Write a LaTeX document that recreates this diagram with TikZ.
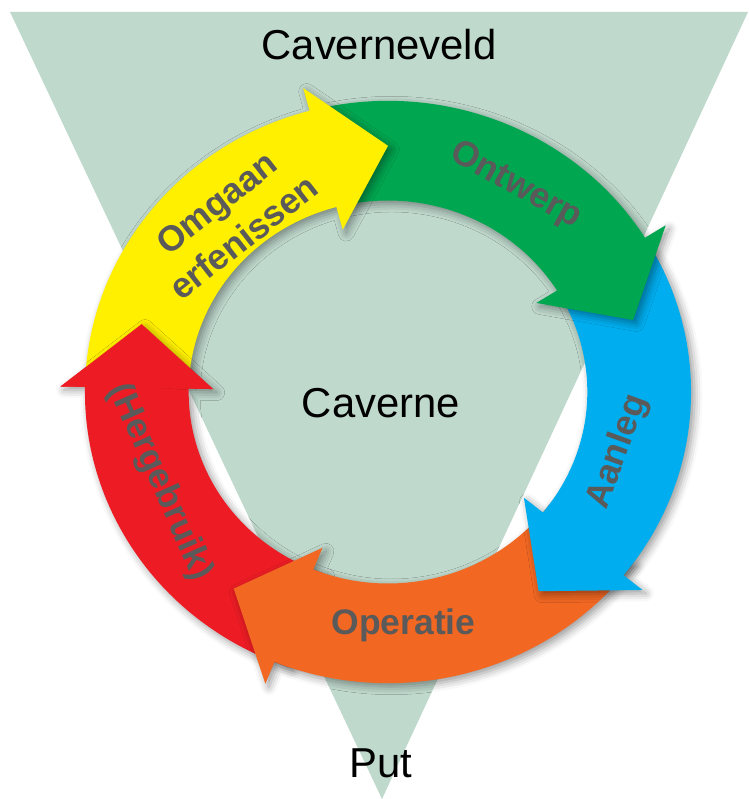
\documentclass[tikz,border=0pt]{standalone}
\usepackage{fontspec}
\setmainfont{Liberation Sans}
\usetikzlibrary{calc,shadows.blur}
\definecolor{tri}{HTML}{C0D9CD}
\definecolor{cyellow}{HTML}{FFF000}
\definecolor{cgreen}{HTML}{00A650}
\definecolor{cblue}{HTML}{00AEEF}
\definecolor{corange}{HTML}{F26722}
\definecolor{cred}{HTML}{ED1C24}
\definecolor{lblgray}{HTML}{5A5A5A}
\begin{document}
\begin{tikzpicture}[x=0.02cm,y=0.02cm,
  arrowshape/.style 2 args={insert path={($(C)+(#1:298)$) arc[start angle=#1,end angle=#2,radius=298] -- ($(C)+(#2:322)$) -- ($(C)+(#2-15:252)$) -- ($(C)+(#2:172)$) -- ($(C)+(#2:196)$) arc[start angle=#2,end angle=#1,radius=196] -- cycle}},
  headshape/.style={insert path={($(C)+(#1:322)$) -- ($(C)+(#1-15:252)$) -- ($(C)+(#1:172)$) -- cycle}},
  shad/.style={blur shadow={shadow xshift=0.07cm,shadow yshift=-0.07cm,shadow blur radius=0.16cm,shadow opacity=40}},
  lbl/.style={font=\fontsize{20.2}{25}\selectfont\bfseries, text=lblgray, inner sep=0pt, align=center},
  big/.style={font=\fontsize{23.8}{28}\selectfont, text=black, inner sep=0pt}]
\useasboundingbox (0,0) rectangle (749,799);
\coordinate (T1) at (10,787);
\coordinate (T2) at (748,787);
\coordinate (T3) at (382,0);
\fill[tri] (T1) -- (T2) -- (T3) -- cycle;
\begin{scope}[shift={(388,407)}, xscale=1.017, yscale=0.977]
\coordinate (C) at (0,0);
% arrows, drawn against the cycle so each head lies over the next tail
\fill[cred, shad, arrowshape={-109}{-181}];
\fill[corange, shad, arrowshape={-36}{-112}];
\fill[cblue, shad, arrowshape={29}{-39}];
\fill[cgreen, shad, arrowshape={102}{32}];
\fill[cyellow, shad, arrowshape={176}{105}];
% red head back on top of the yellow tail
\begin{scope}
  \clip[arrowshape={176}{105}];
  \path[shad, headshape=-181];
\end{scope}
\fill[cred, headshape=-181];
\end{scope}
% texts
\node[big, anchor=base] (veld) at (379,739) {Caverneveld};
\node[big, anchor=base] (cav) at (381,381) {Caverne};
\node[big, anchor=base] (put) at (381,21) {Put};
\node[lbl, rotate=38] (omg) at (230,579) {Omgaan\\erfenissen};
\node[lbl, rotate=-29] (ont) at (516,613) {Ontwerp};
\node[lbl, rotate=70] (aan) at (618,347) {Aanleg};
\node[lbl, anchor=base] (ope) at (403.5,164) {Operatie};
\node[lbl, rotate=-66] (her) at (160,317) {(Hergebruik)};
\end{tikzpicture}
\end{document}
